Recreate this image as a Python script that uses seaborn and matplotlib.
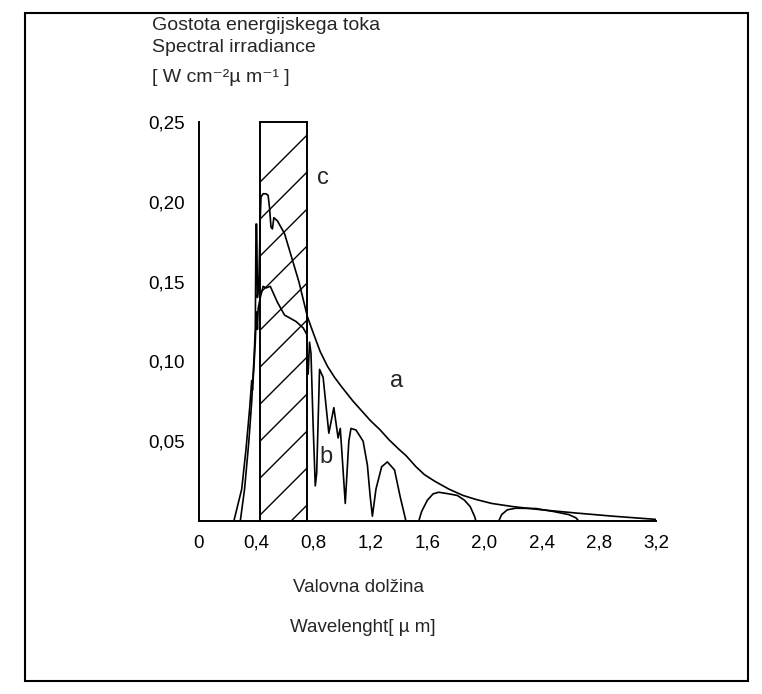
import numpy as np
import pandas as pd
import seaborn as sns
import matplotlib.pyplot as plt
from matplotlib.patches import Rectangle

# curve a - outside the atmosphere
wl_a = [0.29, 0.32, 0.35, 0.37, 0.385, 0.395, 0.400, 0.405, 0.410, 0.420, 0.430, 0.435,
        0.45, 0.47, 0.485, 0.495, 0.505, 0.515, 0.525, 0.55, 0.60, 0.65, 0.70, 0.76,
        0.80, 0.85, 0.90, 0.95, 1.00, 1.08, 1.15, 1.20, 1.27, 1.33, 1.40, 1.45, 1.52,
        1.58, 1.65, 1.75, 1.85, 1.94, 2.05, 2.20, 2.40, 2.64, 2.90, 3.20]
irr_a = [0.0, 0.02, 0.05, 0.075, 0.10, 0.12, 0.186, 0.186, 0.14, 0.15, 0.19, 0.203,
         0.205, 0.205, 0.204, 0.196, 0.184, 0.183, 0.19, 0.188, 0.18, 0.165, 0.15, 0.128,
         0.118, 0.106, 0.097, 0.090, 0.084, 0.075, 0.068, 0.063, 0.057, 0.051, 0.045,
         0.041, 0.034, 0.029, 0.025, 0.020, 0.016, 0.0135, 0.011, 0.009, 0.007, 0.005,
         0.003, 0.001]

# curve b - at sea level
wl_b = [0.245, 0.30, 0.33, 0.355, 0.37, 0.375, 0.385, 0.395, 0.40, 0.405, 0.41, 0.415,
        0.43, 0.45, 0.47, 0.50, 0.55, 0.60, 0.68, 0.73, 0.755, 0.76, 0.765, 0.775,
        0.785, 0.80, 0.815, 0.825, 0.845, 0.87, 0.91, 0.945, 0.975, 0.99, 1.0, 1.025,
        1.05, 1.065, 1.10, 1.15, 1.18, 1.20, 1.215, 1.24, 1.28, 1.32, 1.37, 1.41, 1.45,
        1.54, 1.56, 1.60, 1.64, 1.68, 1.75, 1.81, 1.86, 1.90, 1.93, 1.94, 2.10, 2.12,
        2.16, 2.22, 2.36, 2.48, 2.59, 2.64, 2.66]
irr_b = [0.0, 0.02, 0.045, 0.07, 0.088, 0.082, 0.096, 0.112, 0.125, 0.131, 0.12, 0.133,
         0.14, 0.147, 0.146, 0.147, 0.137, 0.129, 0.125, 0.121, 0.117, 0.10, 0.092, 0.112,
         0.105, 0.06, 0.022, 0.03, 0.095, 0.09, 0.055, 0.071, 0.052, 0.058, 0.045, 0.011,
         0.05, 0.058, 0.057, 0.05, 0.035, 0.015, 0.003, 0.02, 0.034, 0.037, 0.032, 0.015,
         0.0, 0.0, 0.006, 0.013, 0.017, 0.018, 0.017, 0.016, 0.013, 0.009, 0.003, 0.0,
         0.0, 0.004, 0.007, 0.008, 0.0078, 0.006, 0.004, 0.002, 0.0]

# c - visible band
band_c = [0.43, 0.76]
band_top = 0.25

x_ticks = [0, 0.4, 0.8, 1.2, 1.6, 2.0, 2.4, 2.8, 3.2]
x_ticklabels = ['0', '0,4', '0,8', '1,2', '1,6', '2,0', '2,4', '2,8', '3,2']
x_minor = [0.2, 0.6, 1.0, 1.4, 1.8, 2.2, 2.6, 3.0]
y_ticks = [0.05, 0.10, 0.15, 0.20, 0.25]
y_ticklabels = ['0,05', '0,10', '0,15', '0,20', '0,25']

sns.set_theme(style='white')
plt.rcParams['font.family'] = ['Liberation Sans', 'DejaVu Sans']

fig = plt.figure(figsize=(7.62, 6.94), dpi=100)
ax = fig.add_axes([0.261, 0.2493, 0.5997, 0.575])

df = pd.concat([
    pd.DataFrame({'wl': wl_a, 'irr': irr_a, 'curve': 'a'}),
    pd.DataFrame({'wl': wl_b, 'irr': irr_b, 'curve': 'b'}),
])
sns.lineplot(data=df, x='wl', y='irr', units='curve', estimator=None, sort=False,
             color='black', lw=1.2, ax=ax)

ax.set_xlim(0, 3.2)
ax.set_ylim(0, 0.25)

# hatched box for the visible band
rect = Rectangle((band_c[0], 0), band_c[1] - band_c[0], band_top, fill=False,
                 ec='black', lw=1.4, clip_on=False)
ax.add_patch(rect)
p0 = ax.transData.transform((0, 0))
p1 = ax.transData.transform((1, 1))
sx, sy = p1[0] - p0[0], p1[1] - p0[1]
slope = sx / sy
w = band_c[1] - band_c[0]
step = 37 / sy
k0 = 0.242 - w * slope
for k in np.arange(k0, -w * slope - step, -step):
    ln, = ax.plot(band_c, [k, k + w * slope], color='black', lw=1.0)
    ln.set_clip_path(rect)

ax.text(1.34, 0.088, 'a', fontsize=17, va='center')
ax.text(0.845, 0.040, 'b', fontsize=17, va='center')
ax.text(0.83, 0.215, 'c', fontsize=17, va='center')

ax.set_xticks(x_ticks)
ax.set_xticklabels(x_ticklabels)
ax.set_xticks(x_minor, minor=True)
ax.set_yticks(y_ticks)
ax.set_yticklabels(y_ticklabels)
ax.tick_params(which='both', direction='in', length=7, width=1.2, colors='black',
               labelsize=13.5, pad=10)
ax.set_xlabel('')
ax.set_ylabel('')
for s in ['top', 'right']:
    ax.spines[s].set_visible(False)
for s in ['left', 'bottom']:
    ax.spines[s].set_color('black')
    ax.spines[s].set_linewidth(1.4)

fig.text(152 / 762, 1 - 25 / 694, 'Gostota energijskega toka', fontsize=14, va='center')
fig.text(152 / 762, 1 - 48 / 694, 'Spectral irradiance', fontsize=14, va='center')
fig.text(152 / 762, 1 - 78 / 694, '[ W cm⁻²µ m⁻¹ ]', fontsize=14, va='center')
fig.text(293 / 762, 1 - 588 / 694, 'Valovna dolžina', fontsize=13.5, va='center')
fig.text(290 / 762, 1 - 627 / 694, 'Wavelenght[ µ m]', fontsize=13.5, va='center')

fig.add_artist(Rectangle((25 / 762, 13 / 694), 723 / 762, 668 / 694,
                         transform=fig.transFigure, fill=False, ec='black', lw=1.5))

fig.savefig('out.png', dpi=100)
